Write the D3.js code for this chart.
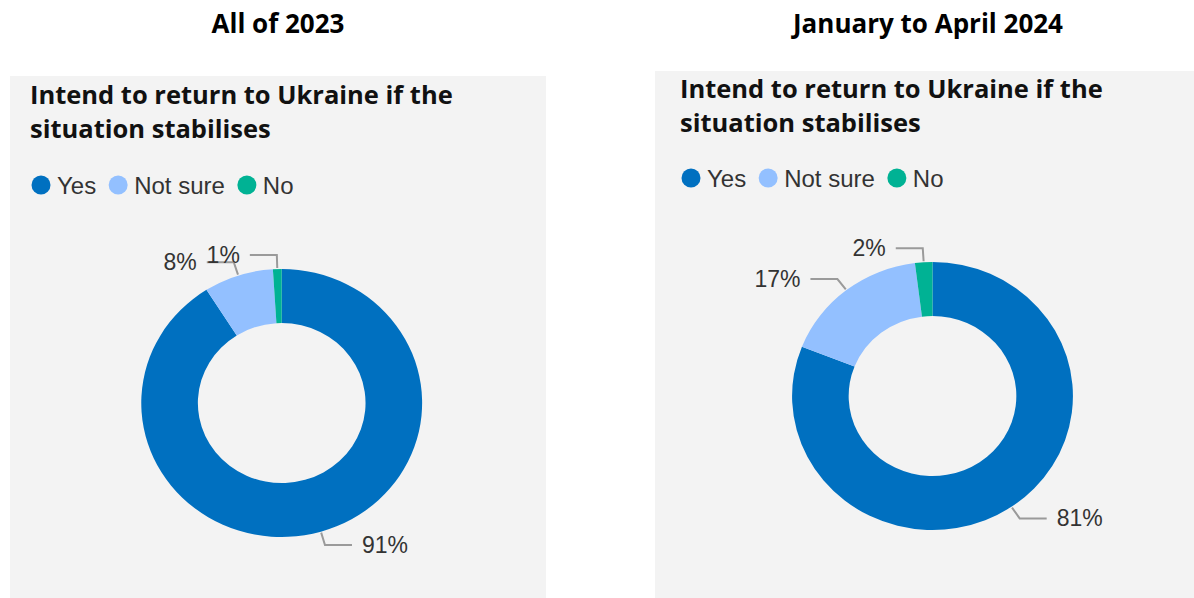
<!DOCTYPE html>
<html>
<head>
<meta charset="utf-8">
<script src="https://cdn.jsdelivr.net/npm/d3@7"></script>
<style>
  html, body { margin: 0; padding: 0; background: #ffffff; }
  svg { display: block; }
</style>
</head>
<body>
<div id="chart"></div>
<script>
const categories = ["Yes", "Not sure", "No"];
const values2023 = [91, 8, 1];
const values2024 = [81, 17, 2];
const periodTitles = ["All of 2023", "January to April 2024"];
const chartTitleLines = ["Intend to return to Ukraine if the", "situation stabilises"];
const sliceColors = ["#0070c0", "#93c0ff", "#00b294"];

const width = 1194;
const height = 598;

const svg = d3.select("#chart").append("svg")
  .attr("width", width)
  .attr("height", height)
  .attr("viewBox", [0, 0, width, height]);

const colorScale = d3.scaleOrdinal()
  .domain(categories)
  .range(sliceColors);

// one panel per period
const panels = [
  { title: periodTitles[0], values: values2023, titleX: 278,
    box: { x: 10, y: 76, w: 536, h: 522 },
    textX: 30, titleY: 104, legendY: 185, cx: 281.7, cy: 403 },
  { title: periodTitles[1], values: values2024, titleX: 928,
    box: { x: 655, y: 71, w: 539, h: 527 },
    textX: 680, titleY: 98, legendY: 178, cx: 932.5, cy: 396 }
];

const outerR = 134;
const innerR = 80;
const stretchX = 1.048;   // the donuts are a bit wider than tall

const pie = d3.pie().sort(null).value(d => d.value);
const arc = d3.arc().innerRadius(innerR).outerRadius(outerR);

panels.forEach(p => {
  const data = categories.map((c, i) => ({ category: c, value: p.values[i] }));

  /*  period heading  */
  svg.append("text")
    .attr("x", p.titleX)
    .attr("y", 33)
    .attr("text-anchor", "middle")
    .attr("font-family", "'Open Sans', sans-serif")
    .attr("font-weight", 700)
    .attr("font-size", 26)
    .attr("fill", "#000")
    .text(p.title);

  /*  grey card  */
  svg.append("rect")
    .attr("x", p.box.x)
    .attr("y", p.box.y)
    .attr("width", p.box.w)
    .attr("height", p.box.h)
    .attr("fill", "#f3f3f3");

  /*  card title  */
  svg.append("g")
    .selectAll("text")
    .data(chartTitleLines)
    .join("text")
      .attr("x", p.textX)
      .attr("y", (d, i) => p.titleY + i * 34)
      .attr("font-family", "'Open Sans', sans-serif")
      .attr("font-weight", 700)
      .attr("font-size", 25.5)
      .attr("fill", "#111")
      .text(d => d);

  /*  legend  */
  const legend = svg.append("g")
    .attr("transform", `translate(${p.textX + 11}, ${p.legendY})`);
  let lx = 0;
  categories.forEach(c => {
    legend.append("circle")
      .attr("cx", lx)
      .attr("cy", 0)
      .attr("r", 9.5)
      .attr("fill", colorScale(c));
    const t = legend.append("text")
      .attr("x", lx + 16)
      .attr("y", 0)
      .attr("dy", "0.36em")
      .attr("font-family", "'Liberation Sans', Arial, sans-serif")
      .attr("font-size", 24)
      .attr("fill", "#333")
      .text(c);
    lx += 16 + t.node().getComputedTextLength() + 22;
  });

  /*  donut  */
  const arcs = pie(data);
  const donut = svg.append("g")
    .attr("transform", `translate(${p.cx}, ${p.cy})`);

  donut.append("g")
    .attr("transform", `scale(${stretchX}, 1)`)
    .selectAll("path")
    .data(arcs)
    .join("path")
      .attr("d", arc)
      .attr("fill", d => colorScale(d.data.category));

  /*  leader lines + labels  */
  const pointAt = (a, r) => [stretchX * r * Math.sin(a), -r * Math.cos(a)];

  arcs.forEach(d => {
    const a = (d.startAngle + d.endAngle) / 2;
    const side = Math.sin(a) >= 0 ? 1 : -1;
    const p0 = pointAt(a, outerR + 1);
    const p1 = pointAt(a, outerR + 14);
    const p2 = [p1[0] + side * 27, p1[1]];

    donut.append("polyline")
      .attr("points", [p0, p1, p2].map(q => q.join(",")).join(" "))
      .attr("fill", "none")
      .attr("stroke", "#9a9a9a")
      .attr("stroke-width", 2);

    donut.append("text")
      .attr("x", p2[0] + side * 10)
      .attr("y", p2[1])
      .attr("dy", "0.33em")
      .attr("text-anchor", side > 0 ? "start" : "end")
      .attr("font-family", "'Liberation Sans', Arial, sans-serif")
      .attr("font-size", 23)
      .attr("fill", "#333")
      .text(`${d.data.value}%`);
  });
});
</script>
</body>
</html>
